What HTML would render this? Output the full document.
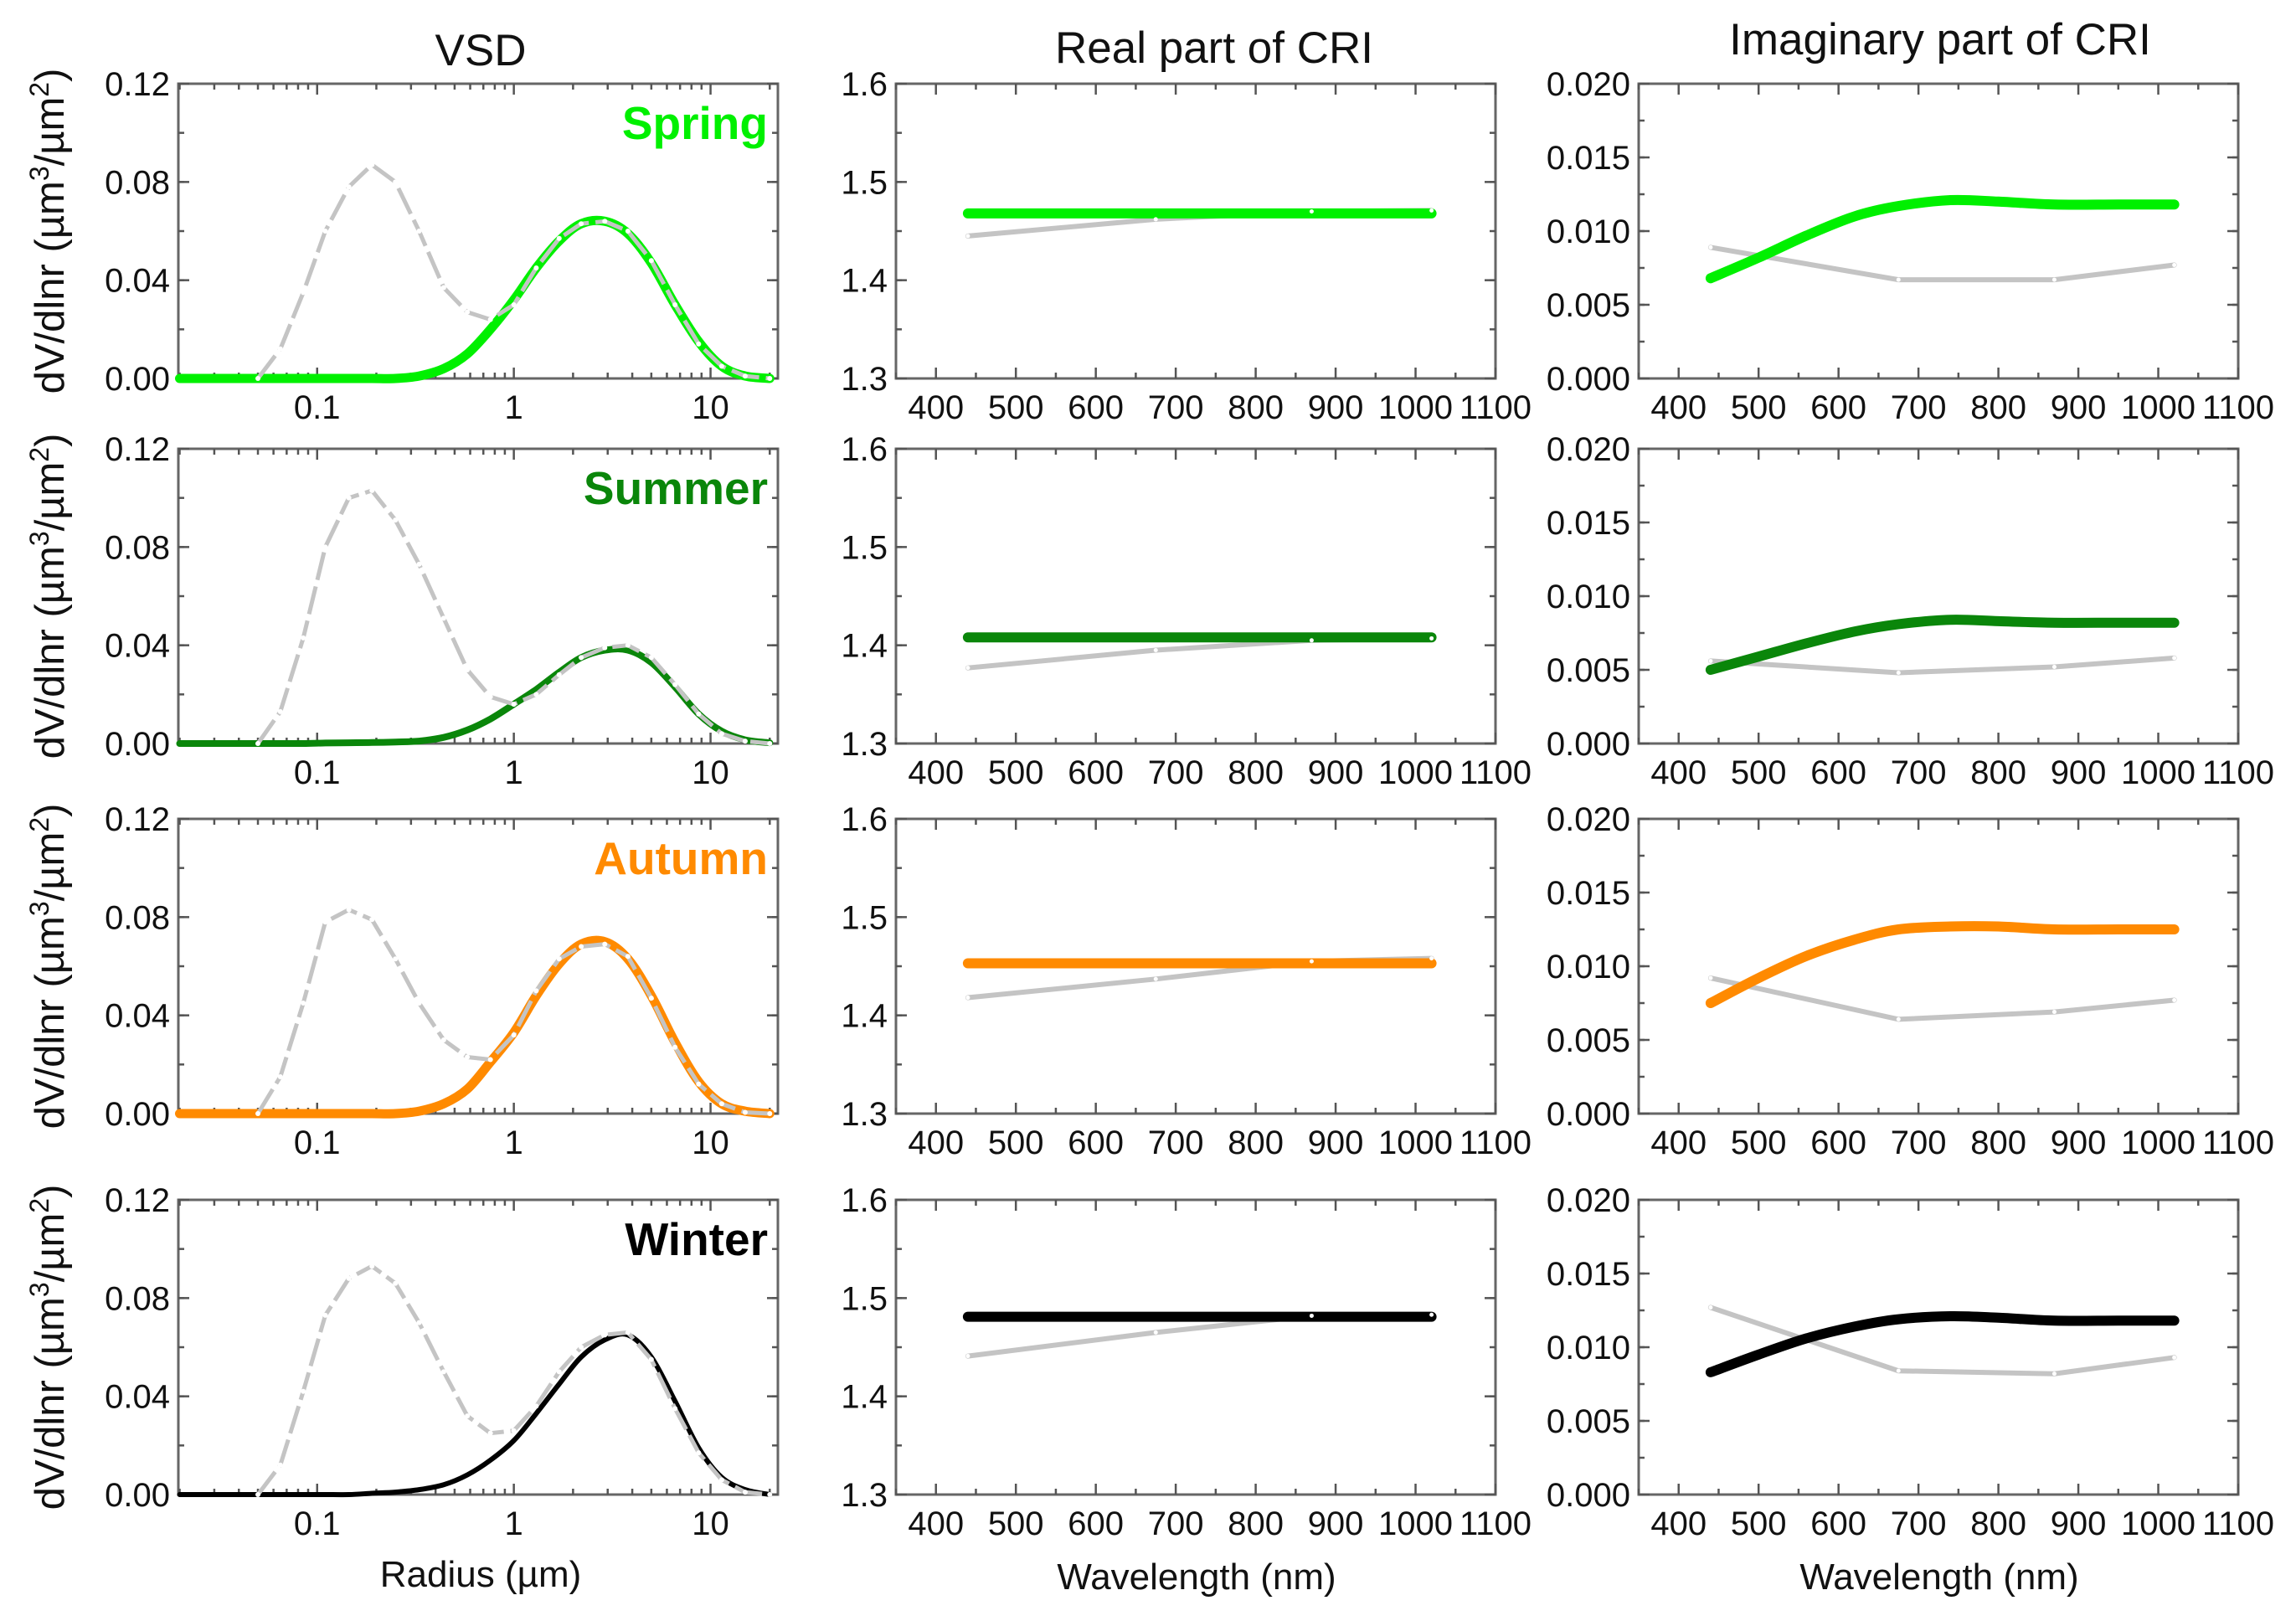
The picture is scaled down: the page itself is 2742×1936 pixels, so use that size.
<!DOCTYPE html>
<html><head><meta charset="utf-8"><title>Seasonal VSD and CRI</title>
<style>
html,body{margin:0;padding:0;background:#fff;}
svg{display:block;font-family:"Liberation Sans",Arial,sans-serif;}
</style></head>
<body>
<svg id="fig" xmlns="http://www.w3.org/2000/svg" width="2742" height="1936" viewBox="0 0 2742 1936">
<rect x="0" y="0" width="2742" height="1936" fill="#fff"/>
<text x="574" y="78" font-size="53" text-anchor="middle" fill="#111">VSD</text>
<text x="1450" y="75" font-size="53" text-anchor="middle" fill="#111">Real part of CRI</text>
<text x="2317" y="65" font-size="53" text-anchor="middle" fill="#111">Imaginary part of CRI</text>
<text x="574" y="1895" font-size="44" text-anchor="middle" fill="#111">Radius (µm)</text>
<text x="1429" y="1898" font-size="44" text-anchor="middle" fill="#111">Wavelength (nm)</text>
<text x="2316" y="1898" font-size="44" text-anchor="middle" fill="#111">Wavelength (nm)</text>
</svg>
<script>
// ---------- data ----------
const radius = [0.02,0.05,0.065,0.085,0.11,0.145,0.19,0.25,0.33,0.44,0.58,0.76,1.0,1.3,1.7,2.2,2.9,3.8,5.0,6.6,8.7,11.4,15,20];
const springGrey = [null,0,0.012,0.035,0.06,0.078,0.087,0.08,0.06,0.037,0.027,0.024,0.03,0.045,0.057,0.063,0.064,0.06,0.048,0.03,0.014,0.005,0.001,0];
const springFit  = [0,0,0,0,0,0,0,0,0.001,0.004,0.01,0.02,0.032,0.045,0.056,0.063,0.064,0.059,0.047,0.03,0.015,0.005,0.001,0];
const summerGrey = [null,0,0.013,0.043,0.08,0.1,0.103,0.091,0.073,0.051,0.03,0.019,0.016,0.02,0.028,0.035,0.039,0.04,0.035,0.024,0.012,0.004,0.001,0];
const summerFit  = [0,0,0,0,0.0002,0.0003,0.0004,0.0006,0.001,0.0025,0.0055,0.01,0.016,0.022,0.029,0.035,0.038,0.038,0.033,0.023,0.012,0.005,0.0015,0.0003];
const autumnGrey = [null,0,0.015,0.045,0.078,0.083,0.079,0.063,0.045,0.03,0.023,0.022,0.032,0.05,0.063,0.068,0.069,0.064,0.047,0.027,0.012,0.004,0.0005,0];
const autumnFit  = [0,0,0,0,0,0,0,0,0.001,0.004,0.01,0.021,0.033,0.048,0.061,0.069,0.07,0.063,0.048,0.029,0.013,0.004,0.001,0];
const winterGrey = [null,0,0.012,0.042,0.073,0.088,0.093,0.086,0.07,0.05,0.032,0.025,0.026,0.036,0.05,0.06,0.065,0.066,0.055,0.035,0.017,0.006,0.001,0];
const winterFit  = [0,0,0,0,0,0,0.0005,0.001,0.002,0.004,0.008,0.014,0.022,0.033,0.045,0.056,0.063,0.065,0.056,0.038,0.019,0.007,0.002,0];

const wlGrey = [440,675,870,1020];
const wlFit = [440,500,560,620,675,740,800,870,950,1020];
const realSpringFit = [1.468,1.468,1.468,1.468];
const realSpringGrey = [1.445,1.462,1.470,1.471];
const realSummerFit = [1.408,1.408,1.408,1.408];
const realSummerGrey = [1.377,1.395,1.405,1.407];
const realAutumnFit = [1.453,1.453,1.453,1.453];
const realAutumnGrey = [1.418,1.437,1.455,1.458];
const realWinterFit = [1.481,1.481,1.481,1.481];
const realWinterGrey = [1.441,1.465,1.482,1.483];

const imagSpringFit = [0.0068,0.0082,0.0097,0.011,0.0117,0.0121,0.012,0.0118,0.0118,0.0118];
const imagSpringGrey = [0.0089,0.0067,0.0067,0.0077];
const imagSummerFit = [0.005,0.0059,0.0068,0.0076,0.0081,0.0084,0.0083,0.0082,0.0082,0.0082];
const imagSummerGrey = [0.0056,0.0048,0.0052,0.0058];
const imagAutumnFit = [0.0075,0.0092,0.0107,0.0118,0.0125,0.0127,0.0127,0.0125,0.0125,0.0125];
const imagAutumnGrey = [0.0092,0.0064,0.0069,0.0077];
const imagWinterFit = [0.0083,0.0095,0.0106,0.0114,0.0119,0.0121,0.012,0.0118,0.0118,0.0118];
const imagWinterGrey = [0.0127,0.0084,0.0082,0.0093];

const seasonNames = ["Spring","Summer","Autumn","Winter"];
const seasonColors = ["#00f000","#0a860a","#ff8a00","#000000"];
const vsdTicks = [0,0.04,0.08,0.12];
const vsdTickLabels = ["0.00","0.04","0.08","0.12"];
const realTicks = [1.3,1.4,1.5,1.6];
const realTickLabels = ["1.3","1.4","1.5","1.6"];
const imagTicks = [0,0.005,0.01,0.015,0.02];
const imagTickLabels = ["0.000","0.005","0.010","0.015","0.020"];
const wlTicks = [400,500,600,700,800,900,1000,1100];
const logTicks = [0.1,1,10];
const logTickLabels = ["0.1","1","10"];

// ---------- layout ----------
const NS = "http://www.w3.org/2000/svg";
const svg = document.getElementById("fig");
const rowTop = [100,536,978,1433];
const H = 352, W = 716;
const colLeft = [213,1070,1957];
const rMin = 0.0197, rMax = 22;
const TF = 40;

function el(tag, attrs, parent){
  const e = document.createElementNS(NS, tag);
  for (const k in attrs) e.setAttribute(k, attrs[k]);
  (parent||svg).appendChild(e);
  return e;
}
function smoothPath(pts){
  if (pts.length < 2) return "";
  let d = "M" + pts[0][0].toFixed(1) + "," + pts[0][1].toFixed(1);
  for (let i=0;i<pts.length-1;i++){
    const p0 = pts[i-1]||pts[i], p1 = pts[i], p2 = pts[i+1], p3 = pts[i+2]||p2;
    const c1 = [p1[0]+(p2[0]-p0[0])/6, p1[1]+(p2[1]-p0[1])/6];
    const c2 = [p2[0]-(p3[0]-p1[0])/6, p2[1]-(p3[1]-p1[1])/6];
    d += " C"+c1[0].toFixed(1)+","+c1[1].toFixed(1)+" "+c2[0].toFixed(1)+","+c2[1].toFixed(1)+" "+p2[0].toFixed(1)+","+p2[1].toFixed(1);
  }
  return d;
}
function linePath(pts){
  return pts.map((p,i)=>(i?"L":"M")+p[0].toFixed(1)+","+p[1].toFixed(1)).join(" ");
}

function drawFrame(g, x0, y0){
  const f = el("rect",{x:x0,y:y0,width:W,height:H,fill:"none",stroke:"#666","stroke-width":3},g);
  
  
}
function tick(g, x1,y1,x2,y2){
  el("line",{x1:x1,y1:y1,x2:x2,y2:y2,stroke:"#555","stroke-width":2.5},g);
}
function yAxis(g, x0, y0, ys, ticks, labels, minorStep, lo, hi){
  for (let v=lo; v<=hi+1e-9; v+=minorStep){
    const y = ys(v);
    tick(g,x0,y,x0+7,y); tick(g,x0+W,y,x0+W-7,y);
  }
  ticks.forEach((v,i)=>{
    const y = ys(v);
    tick(g,x0,y,x0+13,y); tick(g,x0+W,y,x0+W-13,y);
    const t = el("text",{x:x0-10,y:y+14,"font-size":TF,"text-anchor":"end",fill:"#111"},g);
    
    
    t.textContent = labels[i];
  });
}
function yTitle(g, rowY){
  const cx = 76, cy = rowY + H/2;
  const t = el("text",{x:cx,y:cy,"font-size":49,"text-anchor":"middle",fill:"#111",transform:"rotate(-90 "+cx+" "+cy+")"},g);
  
  
  t.innerHTML = 'dV/dlnr (µm<tspan baseline-shift="super" font-size="32">3</tspan>/µm<tspan baseline-shift="super" font-size="32">2</tspan>)';
}

for (let row=0; row<4; row++){
  const y0 = rowTop[row];
  // ---------- VSD panel ----------
  const g1 = el("g",{});
  
  
  const x0 = colLeft[0];
  const xs = r => x0 + (Math.log10(r)-Math.log10(rMin))/(Math.log10(rMax)-Math.log10(rMin))*W;
  const ys = v => y0 + H - v/0.12*H;
  drawFrame(g1,x0,y0);
  yAxis(g1,x0,y0,ys,vsdTicks,vsdTickLabels,0.02,0,0.12);
  for (let dec=-2; dec<=1; dec++){
    for (let m=1;m<=9;m++){
      const r = m*Math.pow(10,dec);
      if (r<rMin || r>rMax) continue;
      const x = xs(r), L = (m===1)?13:7;
      tick(g1,x,y0+H,x,y0+H-L); tick(g1,x,y0,x,y0+L);
    }
  }
  logTicks.forEach((v,i)=>{
    const t = el("text",{x:xs(v),y:y0+H+48,"font-size":TF,"text-anchor":"middle",fill:"#111"},g1);
    
    
    t.textContent = logTickLabels[i];
  });
  yTitle(g1,y0);
  const greys = [springGrey,summerGrey,autumnGrey,winterGrey][row];
  const fits = [springFit,summerFit,autumnFit,winterFit][row];
  const fitPts = radius.map((r,i)=>[xs(r),ys(fits[i])]);
  const fp = el("path",{d:smoothPath(fitPts),fill:"none",stroke:seasonColors[row],"stroke-width":row===3?6:(row===1?8:11),"stroke-linecap":"round","stroke-linejoin":"round"},g1);
  
  
  const gPts = [];
  radius.forEach((r,i)=>{ if (greys[i]!==null) gPts.push([xs(r),ys(greys[i])]); });
  const gp = el("path",{d:linePath(gPts),fill:"none",stroke:"#c4c4c4","stroke-width":5,"stroke-dasharray":"34 8","stroke-linejoin":"round"},g1);
  
  
  gPts.forEach(p=>{
    const c = el("circle",{cx:p[0],cy:p[1],r:3,fill:"#fff"},g1);
    
    
  });
  const lab = el("text",{x:917,y:y0+66,"font-size":55,"font-weight":"bold","text-anchor":"end",fill:seasonColors[row]},g1);
  
  
  lab.textContent = seasonNames[row];

  // ---------- CRI panels ----------
  for (let c=1;c<=2;c++){
    const g = el("g",{});
    
    
    const cx0 = colLeft[c];
    const xw = w => cx0 + (w-350)/750*W;
    const lo = c===1?1.3:0, hi = c===1?1.6:0.02;
    const yv = v => y0 + H - (v-lo)/(hi-lo)*H;
    drawFrame(g,cx0,y0);
    if (c===1) yAxis(g,cx0,y0,yv,realTicks,realTickLabels,0.05,1.3,1.6);
    else yAxis(g,cx0,y0,yv,imagTicks,imagTickLabels,0.0025,0,0.02);
    for (let w=350; w<=1100; w+=50){
      const L = (w%100===0)?13:7, x = xw(w);
      tick(g,x,y0+H,x,y0+H-L); tick(g,x,y0,x,y0+L);
    }
    wlTicks.forEach(w=>{
      const t = el("text",{x:xw(w),y:y0+H+48,"font-size":TF,"text-anchor":"middle",fill:"#111"},g);
      
      
      t.textContent = String(w);
    });
    let fitW, fitV, greyV;
    if (c===1){
      fitW = wlGrey;
      fitV = [realSpringFit,realSummerFit,realAutumnFit,realWinterFit][row];
      greyV = [realSpringGrey,realSummerGrey,realAutumnGrey,realWinterGrey][row];
    } else {
      fitW = wlFit;
      fitV = [imagSpringFit,imagSummerFit,imagAutumnFit,imagWinterFit][row];
      greyV = [imagSpringGrey,imagSummerGrey,imagAutumnGrey,imagWinterGrey][row];
    }
    const gp2 = wlGrey.map((w,i)=>[xw(w),yv(greyV[i])]);
    const gl = el("path",{d:linePath(gp2),fill:"none",stroke:"#c4c4c4","stroke-width":6,"stroke-linecap":"round"},g);
    
    
    const fp2 = fitW.map((w,i)=>[xw(w),yv(fitV[i])]);
    const fl = el("path",{d:smoothPath(fp2),fill:"none",stroke:seasonColors[row],"stroke-width":12,"stroke-linecap":"round"},g);
    
    
    gp2.forEach(p=>{
      const m = el("circle",{cx:p[0],cy:p[1],r:2.5,fill:"#fff"},g);
      
      
    });
  }
}
</script>
</body></html>
